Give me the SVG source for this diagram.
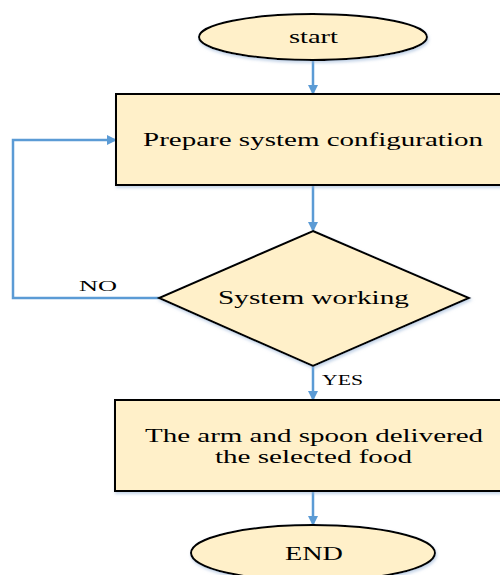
<svg xmlns="http://www.w3.org/2000/svg" width="500" height="575" viewBox="0 0 500 575">
<defs>
<marker id="ah" markerWidth="10" markerHeight="10" refX="8" refY="5" orient="auto" markerUnits="userSpaceOnUse">
<path d="M0,0 L10,5 L0,10 Z" fill="#5B9BD5"/>
</marker>
<filter id="sh" x="-10%" y="-10%" width="120%" height="130%">
<feDropShadow dx="1" dy="2" stdDeviation="1.5" flood-color="#9DB8D9" flood-opacity="0.6"/>
</filter>
</defs>
<style>
.n{fill:#FFF0C9;stroke:#000;stroke-width:2;filter:url(#sh)}
.t{font-family:"Liberation Serif","Times New Roman",serif;font-size:19px;fill:#000;text-anchor:middle}
.s{font-size:15px}
.c{fill:none;stroke:#5B9BD5;stroke-width:2.5}
</style>
<rect width="500" height="575" fill="#fff"/>
<g id="connectors">
<line class="c" x1="313" y1="60" x2="313" y2="93" marker-end="url(#ah)"/>
<line class="c" x1="313" y1="185" x2="313" y2="230" marker-end="url(#ah)"/>
<polyline class="c" points="159,298 13,298 13,140 115,140" marker-end="url(#ah)"/>
<line class="c" x1="313" y1="366" x2="313" y2="399" marker-end="url(#ah)"/>
<line class="c" x1="313" y1="491" x2="313" y2="524" marker-end="url(#ah)"/>
<text class="t s" x="98" y="291" textLength="38" lengthAdjust="spacingAndGlyphs">NO</text>
<text class="t s" x="342.5" y="385" textLength="41" lengthAdjust="spacingAndGlyphs">YES</text>
</g>
<g id="start">
<ellipse class="n" cx="313" cy="37" rx="114" ry="23"/>
<text class="t" x="313.5" y="43" textLength="49" lengthAdjust="spacingAndGlyphs">start</text>
</g>
<g id="prepare">
<rect class="n" x="116" y="94" width="394" height="91"/>
<text class="t" x="313" y="145.5" textLength="340" lengthAdjust="spacingAndGlyphs">Prepare system configuration</text>
</g>
<g id="decision">
<polygon class="n" points="313,231 469,298 313,366 159,298"/>
<text class="t" x="313.5" y="304" textLength="191" lengthAdjust="spacingAndGlyphs">System working</text>
</g>
<g id="deliver">
<rect class="n" x="115" y="400" width="396" height="91"/>
<text class="t" x="314" y="442" textLength="338" lengthAdjust="spacingAndGlyphs">The arm and spoon delivered</text>
<text class="t" x="313.5" y="463" textLength="197" lengthAdjust="spacingAndGlyphs">the selected food</text>
</g>
<g id="end">
<ellipse class="n" cx="313" cy="553" rx="122" ry="28"/>
<text class="t" x="314" y="560" textLength="58" lengthAdjust="spacingAndGlyphs">END</text>
</g>
</svg>
